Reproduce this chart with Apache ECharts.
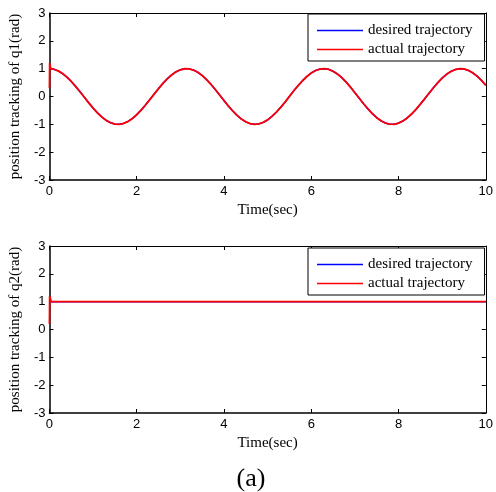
<!DOCTYPE html>
<html>
<head>
<meta charset="utf-8">
<script src="https://cdn.jsdelivr.net/npm/echarts@6/dist/echarts.min.js"></script>
<style>
html,body{margin:0;padding:0;background:#fff;}
#chart{width:496px;height:492px;}
</style>
</head>
<body>
<div id="chart"></div>
<script>
// time samples (sec)
var time = [0,0.1,0.2,0.3,0.4,0.5,0.6,0.7,0.8,0.9,1.0,1.1,1.2,1.3,1.4,1.5,1.6,1.7,1.8,1.9,
  2.0,2.1,2.2,2.3,2.4,2.5,2.6,2.7,2.8,2.9,3.0,3.1,3.2,3.3,3.4,3.5,3.6,3.7,3.8,3.9,
  4.0,4.1,4.2,4.3,4.4,4.5,4.6,4.7,4.8,4.9,5.0,5.1,5.2,5.3,5.4,5.5,5.6,5.7,5.8,5.9,
  6.0,6.1,6.2,6.3,6.4,6.5,6.6,6.7,6.8,6.9,7.0,7.1,7.2,7.3,7.4,7.5,7.6,7.7,7.8,7.9,
  8.0,8.1,8.2,8.3,8.4,8.5,8.6,8.7,8.8,8.9,9.0,9.1,9.2,9.3,9.4,9.5,9.6,9.7,9.8,9.9,10.0];
// desired trajectory of q1 (rad)
var q1Desired = [1.000,0.980,0.921,0.825,0.697,0.540,0.362,0.170,-0.029,-0.227,
  -0.416,-0.589,-0.737,-0.857,-0.942,-0.990,-0.998,-0.967,-0.897,-0.791,
  -0.654,-0.490,-0.307,-0.112,0.087,0.284,0.469,0.635,0.776,0.886,
  0.960,0.997,0.993,0.951,0.869,0.754,0.608,0.439,0.253,0.054,
  -0.146,-0.340,-0.520,-0.680,-0.811,-0.911,-0.975,-1.000,-0.985,-0.930,
  -0.839,-0.715,-0.563,-0.389,-0.202,0.004,0.205,0.392,0.566,0.718,
  0.844,0.934,0.985,1.000,0.976,0.907,0.808,0.677,0.517,0.336,
  0.137,-0.062,-0.260,-0.448,-0.616,-0.760,-0.874,-0.953,-0.995,-0.998,
  -0.958,-0.881,-0.770,-0.629,-0.464,-0.275,-0.083,0.117,0.314,0.497,
  0.660,0.796,0.899,0.967,0.998,0.989,0.939,0.852,0.731,0.582,0.408];
// actual q1: initial transient, then follows desired
var q1TransTime = [0, 0.005, 0.03];
var q1TransVal = [0.3, 1.2, 1.0];
// q2 desired and actual
var q2Time = [0, 10];
var q2Desired = [1.0, 1.0];
var q2ActTime = [0, 0.005, 0.04, 10];
var q2ActVal = [0.2, 1.2, 1.0, 1.0];
// axes
var xMin = 0, xMax = 10, xStep = 2;
var yMin = -3, yMax = 3, yStep = 1;
var seriesNames = ['desired trajectory', 'actual trajectory'];
var yTitles = ['position tracking of q1(rad)', 'position tracking of q2(rad)'];
var xTitle = 'Time(sec)';
var caption = '(a)';

function pairs(xs, ys){ return xs.map(function(x,i){ return [x, ys[i]]; }); }
var q1DesData = pairs(time, q1Desired);
var q1ActData = pairs(q1TransTime, q1TransVal).concat(pairs(time.slice(1), q1Desired.slice(1)));
var q2DesData = pairs(q2Time, q2Desired);
var q2ActData = pairs(q2ActTime, q2ActVal);

var SANS = '"Liberation Sans", Arial, sans-serif';
var SERIF = '"Liberation Serif", "Times New Roman", serif';
var BLUE = '#0000ff', RED = '#ff0000';

var grids = [
  {left: 47, right: 10, top: 13, height: 167},
  {left: 47, right: 10, top: 246, height: 167}
];
var xAxes = [], yAxes = [], legends = [];
[0,1].forEach(function(g){
  xAxes.push({
    type: 'value', gridIndex: g, min: xMin, max: xMax, interval: xStep,
    name: xTitle, nameLocation: 'middle', nameGap: 23,
    nameTextStyle: {fontFamily: SERIF, fontSize: 15, color: '#000'},
    axisLine: {show: true, onZero: false, lineStyle: {color: '#000', width: 1.5}},
    axisTick: {inside: true, length: 4, lineStyle: {color: '#000'}},
    axisLabel: {fontFamily: SANS, fontSize: 13, color: '#000', margin: 5},
    splitLine: {show: false}
  });
  xAxes.push({
    type: 'value', gridIndex: g, position: 'top', min: xMin, max: xMax, interval: xStep,
    axisLine: {show: true, onZero: false, lineStyle: {color: '#000', width: 1}},
    axisTick: {inside: true, length: 4, lineStyle: {color: '#000'}},
    axisLabel: {show: false}, splitLine: {show: false}
  });
  yAxes.push({
    type: 'value', gridIndex: g, min: yMin, max: yMax, interval: yStep,
    name: yTitles[g], nameLocation: 'middle', nameGap: 22,
    nameTextStyle: {fontFamily: SERIF, fontSize: 15, color: '#000'},
    axisLine: {show: true, onZero: false, lineStyle: {color: '#000', width: 1.5}},
    axisTick: {inside: true, length: 4, lineStyle: {color: '#000'}},
    axisLabel: {fontFamily: SANS, fontSize: 13, color: '#000', margin: 4},
    splitLine: {show: false}
  });
  yAxes.push({
    type: 'value', gridIndex: g, position: 'right', min: yMin, max: yMax, interval: yStep,
    axisLine: {show: true, onZero: false, lineStyle: {color: '#000', width: 1}},
    axisTick: {inside: true, length: 4, lineStyle: {color: '#000'}},
    axisLabel: {show: false}, splitLine: {show: false}
  });
  legends.push({
    orient: 'vertical', left: 308, top: g === 0 ? 14 : 248,
    backgroundColor: '#fff', borderColor: '#000', borderWidth: 1,
    padding: [9, 12, 4, 9], itemGap: 4, itemWidth: 46, itemHeight: 1.5,
    icon: 'rect', selectedMode: false,
    data: seriesNames,
    textStyle: {fontFamily: SERIF, fontSize: 15, color: '#000', lineHeight: 15}
  });
});

function line(name, g, data, color, w){
  return {
    name: name, type: 'line', xAxisIndex: g*2, yAxisIndex: g*2, data: data,
    showSymbol: false, symbol: 'none', animation: false,
    lineStyle: {color: color, width: w}, itemStyle: {color: color}
  };
}

var chart = echarts.init(document.getElementById('chart'), null, {renderer: 'canvas'});
chart.setOption({
  backgroundColor: '#fff',
  animation: false,
  grid: grids,
  xAxis: xAxes,
  yAxis: yAxes,
  legend: legends,
  series: [
    line(seriesNames[0], 0, q1DesData, BLUE, 1.5),
    line(seriesNames[1], 0, q1ActData, RED, 1.8),
    line(seriesNames[0], 1, q2DesData, BLUE, 1.5),
    line(seriesNames[1], 1, q2ActData, RED, 1.8)
  ],
  graphic: [{
    type: 'text', x: 251, y: 479,
    style: {text: caption, fontFamily: SERIF, fontSize: 26, fill: '#000', align: 'center', verticalAlign: 'middle'}
  }]
});
</script>
</body>
</html>
